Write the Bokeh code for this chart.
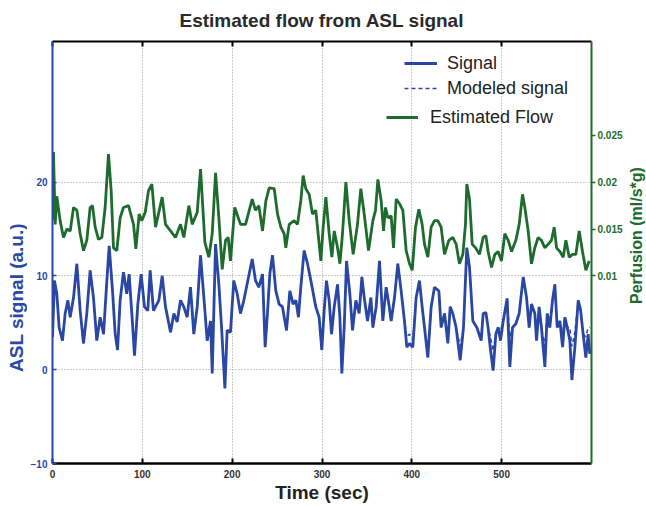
import math
from bokeh.plotting import figure
from bokeh.layouts import row
from bokeh.models import Range1d, LinearAxis, FixedTicker, Legend, LegendItem, CustomJSTickFormatter
from bokeh.embed import file_html
from bokeh.resources import INLINE

BLUE = "#2a47a6"
GREEN = "#1e6b2e"
FONT = "Liberation Sans"

# ---- data ----
time_signal = [0, 2.2, 4.8, 7.4, 11.1, 14.1, 17.1, 19.7, 23.4, 27.1,
               30.8, 34.5, 38.2, 41.9, 45.6, 49.3, 53.1, 56.8, 60.5, 63.1,
               66.8, 69.8, 72.4, 75.3, 79.0, 82.7, 85.3, 88.3, 91.3, 95.0,
               98.7, 102.4, 106.1, 108.7, 112.4, 118.4, 122.1, 125.8, 131.4, 135.1,
               138.8, 142.5, 146.2, 149.9, 153.6, 157.3, 161.1, 164.8, 168.5, 172.2,
               175.9, 177.8, 181.5, 185.2, 188.2, 191.9, 194.4, 198.1, 201.8, 205.6,
               209.3, 213.0, 222.3, 226.0, 229.7, 233.8, 236.7, 239.3, 241.9, 244.9,
               248.6, 252.3, 256.0, 260.5, 264.2, 267.9, 270.9, 273.8, 276.4, 280.1,
               283.9, 287.6, 293.1, 296.8, 299.8, 302.4, 305.0, 308.0, 310.6, 313.6,
               317.3, 319.9, 322.1, 324.7, 327.3, 331.0, 334.0, 337.7, 341.4, 344.4,
               347.0, 350.7, 354.4, 356.6, 360.3, 364.0, 367.7, 371.4, 374.4, 377.0,
               380.7, 384.4, 388.1, 391.8, 394.4, 397.4, 401.1, 404.8, 408.5, 411.5,
               414.1, 417.8, 421.5, 425.2, 430.1, 432.6, 436.4, 440.1, 442.7, 445.6,
               449.3, 453.8, 457.5, 461.2, 464.2, 467.9, 472.4, 477.2, 479.4, 482.4,
               484.9, 487.6, 490.5, 493.5, 496.1, 498.7, 501.7, 506.1, 509.1, 512.1,
               515.8, 519.5, 524.0, 527.7, 530.6, 533.2, 536.9, 538.8, 541.7, 544.3,
               548.1, 550.7, 553.6, 556.6, 559.2, 561.8, 564.8, 567.8, 570.4, 573.0,
               575.9, 578.2, 581.5, 585.2, 587.8, 590.7, 593.7, 596.3, 598.1]

asl_signal = [3.5, 9.5, 8.1, 4.5, 3.1, 6.0, 7.4, 5.6, 7.7, 11.3,
              6.3, 2.8, 6.0, 10.6, 7.7, 3.1, 5.6, 3.8, 9.5, 13.2,
              8.4, 3.8, 2.1, 7.4, 10.4, 8.1, 10.2, 6.0, 1.5, 7.0,
              10.2, 6.7, 6.3, 10.6, 6.3, 7.4, 10.0, 6.7, 4.0, 6.0,
              5.1, 7.4, 6.7, 5.6, 8.8, 3.8, 6.7, 12.2, 7.7, 3.1,
              5.2, -0.4, 13.4, 9.1, 4.5, -2.0, 4.2, 4.0, 9.5, 8.1,
              6.0, 7.4, 11.8, 9.5, 8.8, 10.2, 2.4, 6.0, 10.2, 12.2,
              8.4, 7.0, 6.7, 4.2, 8.4, 7.0, 7.4, 5.6, 8.8, 12.7,
              11.3, 9.5, 6.7, 5.6, 2.1, 6.3, 9.5, 7.4, 3.8, 6.7,
              9.1, 5.6, -0.4, 4.5, 11.6, 8.1, 4.2, 7.4, 6.0, 9.9,
              7.7, 5.2, 7.7, 4.5, 6.7, 11.6, 5.2, 8.8, 7.0, 5.2,
              7.7, 11.3, 8.4, 5.2, 2.4, 2.8, 2.4, 7.7, 9.5, 6.7,
              4.5, 1.3, 6.7, 8.8, 8.4, 4.5, 6.0, 2.8, 6.7, 6.0,
              4.5, 1.0, 4.5, 13.0, 10.9, 5.2, 4.5, 3.1, 6.0, 6.1,
              4.5, 2.1, -0.1, 3.8, 4.5, 3.1, 5.2, 7.6, 0.3, 4.5,
              4.9, 6.0, 9.9, 7.7, 4.5, 7.0, 6.0, 3.1, 6.7, 4.5,
              0.3, 6.0, 4.5, 7.4, 9.1, 4.5, 5.2, 2.4, 5.6, 4.5,
              3.1, -1.1, 2.4, 7.4, 6.4, 3.8, 1.3, 3.8, 1.7]

modeled_signal = [3.5, 9.5, 8.1, 4.5, 3.1, 6.0, 7.4, 5.6, 7.7, 11.3,
                  6.3, 2.8, 6.0, 10.6, 7.7, 3.1, 5.6, 3.8, 9.5, 13.2,
                  8.4, 3.8, 2.1, 7.4, 10.4, 8.1, 10.2, 6.0, 2.5, 7.0,
                  10.2, 6.7, 6.3, 10.6, 6.3, 7.4, 10.0, 6.7, 4.0, 6.0,
                  5.1, 7.4, 6.7, 5.6, 8.8, 3.8, 6.7, 12.2, 7.7, 3.1,
                  5.2, -0.4, 13.4, 9.1, 4.5, -1.0, 4.2, 4.0, 9.5, 8.1,
                  6.0, 7.4, 11.8, 9.5, 8.8, 10.2, 2.4, 6.0, 10.2, 12.2,
                  8.4, 7.0, 6.7, 4.2, 8.4, 7.0, 7.4, 5.6, 8.8, 12.7,
                  11.3, 9.5, 6.7, 5.6, 2.1, 6.3, 9.5, 7.4, 3.8, 6.7,
                  9.1, 5.6, 1.0, 4.5, 11.6, 8.1, 4.2, 7.4, 6.0, 9.9,
                  7.7, 5.2, 7.7, 4.5, 6.7, 11.6, 5.2, 8.8, 7.0, 5.2,
                  7.7, 11.3, 8.4, 5.2, 3.5, 3.8, 3.2, 7.7, 9.5, 6.7,
                  4.5, 1.3, 6.7, 8.8, 8.4, 4.5, 6.0, 4.0, 6.7, 6.0,
                  4.5, 2.5, 4.5, 13.0, 10.9, 5.2, 4.5, 3.1, 6.0, 6.1,
                  4.5, 3.5, 2.0, 3.8, 4.5, 4.2, 5.2, 7.6, 3.5, 4.5,
                  4.9, 6.0, 9.9, 7.7, 4.5, 7.0, 6.0, 3.1, 6.7, 4.5,
                  2.5, 6.0, 4.5, 7.4, 9.1, 4.5, 5.2, 3.8, 5.6, 4.5,
                  4.5, 2.5, 4.0, 7.4, 6.4, 3.8, 3.5, 4.5, 4.5]

time_flow = [0, 1.1, 3.0, 4.8, 8.5, 12.2, 16.0, 19.7, 23.4, 27.1,
             30.8, 34.5, 38.2, 41.9, 44.5, 47.5, 51.2, 54.9, 58.6, 62.3,
             65.3, 67.9, 71.6, 75.3, 79.0, 84.6, 90.2, 92.8, 96.5, 99.4,
             103.2, 106.9, 110.6, 114.7, 122.1, 125.8, 131.4, 136.9, 142.5, 146.2,
             151.8, 155.5, 161.1, 164.8, 169.6, 174.0, 177.8, 181.5, 185.2, 188.9,
             192.6, 195.6, 198.1, 202.9, 209.3, 214.9, 222.3, 226.0, 229.7, 233.8,
             237.5, 241.2, 246.8, 250.5, 254.2, 257.9, 259.7, 263.5, 269.0, 272.7,
             276.4, 279.0, 282.0, 285.7, 289.4, 293.1, 298.7, 301.3, 304.3, 308.0,
             311.0, 313.6, 317.3, 319.9, 322.8, 326.6, 330.3, 334.7, 339.5, 343.2,
             347.0, 351.8, 356.6, 359.6, 362.2, 365.9, 368.5, 370.7, 373.3, 377.0,
             379.6, 382.6, 386.3, 390.0, 393.7, 397.4, 400.4, 404.1, 407.8, 411.5,
             414.1, 417.8, 421.5, 425.2, 428.9, 432.6, 436.4, 441.2, 445.6, 449.3,
             453.0, 456.8, 459.7, 461.2, 464.2, 467.2, 470.9, 475.3, 479.4, 482.4,
             484.9, 488.7, 492.4, 496.1, 499.8, 503.5, 507.3, 511.0, 515.8, 519.5,
             523.2, 525.8, 529.5, 533.2, 536.9, 540.6, 544.3, 548.1, 551.8, 555.5,
             558.5, 561.1, 564.8, 568.5, 571.5, 575.2, 578.9, 582.6, 586.3, 590.0,
             593.7, 597.4]

# estimated flow, in units of 0.001 ml/s*g
flow_milli = [16.0, 23.2, 15.5, 18.5, 15.9, 14.1, 15.0, 14.8, 17.3, 17.0,
              14.5, 12.7, 13.8, 17.3, 17.5, 15.2, 13.9, 14.1, 17.3, 23.0,
              19.1, 13.0, 12.7, 16.2, 17.3, 17.5, 15.5, 12.9, 16.6, 15.9,
              16.8, 19.1, 19.8, 15.2, 18.4, 15.5, 14.8, 14.1, 15.5, 14.1,
              17.5, 15.5, 16.8, 21.4, 13.6, 12.0, 14.5, 21.0, 16.2, 10.7,
              13.8, 14.1, 11.6, 17.3, 15.5, 15.5, 18.2, 17.0, 17.5, 14.8,
              18.0, 19.4, 19.3, 16.6, 15.2, 14.5, 13.0, 15.5, 15.9, 15.5,
              18.0, 20.7, 19.3, 18.7, 16.6, 17.0, 11.6, 15.2, 18.4, 14.5,
              12.0, 14.8, 13.0, 11.3, 14.5, 20.0, 15.9, 12.3, 15.5, 19.3,
              16.6, 12.7, 15.9, 17.0, 20.3, 18.0, 14.8, 17.3, 16.2, 16.4,
              13.0, 18.2, 17.7, 17.0, 12.7, 11.3, 10.6, 15.2, 17.1, 15.5,
              13.4, 12.0, 15.2, 15.9, 15.9, 15.2, 12.3, 13.8, 14.1, 13.4,
              11.3, 12.3, 15.5, 19.8, 18.2, 13.4, 13.0, 12.3, 14.1, 14.3,
              12.6, 10.9, 12.3, 12.6, 11.6, 14.5, 13.8, 12.6, 13.8, 15.5,
              18.7, 17.3, 14.8, 11.3, 13.0, 14.1, 13.8, 13.0, 13.4, 13.8,
              15.2, 13.0, 12.6, 12.0, 13.8, 12.0, 12.3, 12.3, 14.8, 12.6,
              10.6, 11.6]
flow = [v / 1000.0 for v in flow_milli]

x_ticks = [0, 100, 200, 300, 400, 500]
left_ticks = [-10, 0, 10, 20]
right_ticks = [0.01, 0.015, 0.02, 0.025]
right_tick_labels = ["0.01", "0.015", "0.02", "0.025"]


def label_panel(width, text, color, size, border_left, border_top, border_bottom, standoff):
    """A narrow figure that only carries a vertical (bottom-to-top) axis title."""
    f = figure(width=width, height=506, x_range=Range1d(0, 1), y_range=Range1d(0, 1),
               output_backend="svg", toolbar_location=None, x_axis_location=None,
               min_border_left=border_left, min_border_right=0,
               min_border_top=border_top, min_border_bottom=border_bottom)
    f.frame_align = False
    f.outline_line_color = None
    f.grid.visible = False
    f.background_fill_color = "white"
    f.border_fill_color = "white"
    ax = f.yaxis[0]
    ax.ticker = FixedTicker(ticks=[])
    ax.axis_line_color = None
    ax.major_tick_line_color = None
    ax.minor_tick_line_color = None
    ax.axis_label = text
    ax.axis_label_text_font = FONT
    ax.axis_label_text_font_size = size
    ax.axis_label_text_font_style = "bold"
    ax.axis_label_text_color = color
    ax.axis_label_standoff = standoff
    return f


# ---- main figure ----
p = figure(width=598, height=506, x_range=Range1d(0, 600), y_range=Range1d(-10, 35),
           output_backend="svg", toolbar_location=None,
           min_border_left=25, min_border_right=34, min_border_top=40, min_border_bottom=43,
           title="Estimated flow from ASL signal")
p.frame_align = False
p.extra_y_ranges = {"flow": Range1d(-0.010, 0.035)}
p.outline_line_color = None
p.background_fill_color = "white"
p.border_fill_color = "white"

p.title.align = "center"
p.title.vertical_align = "top"
p.title.text_font = FONT
p.title.text_font_size = "19px"
p.title.text_font_style = "bold"
p.title.text_color = "#2a2a2a"
p.title.standoff = 18

# grid
p.xgrid.ticker = FixedTicker(ticks=[100, 200, 300, 400, 500])
p.ygrid.ticker = FixedTicker(ticks=[0, 10, 20])
for g in (p.xgrid[0], p.ygrid[0]):
    g.grid_line_color = "#9a9a9a"
    g.grid_line_dash = "1 2"
    g.grid_line_width = 1

# bottom axis
xa = p.xaxis[0]
xa.ticker = FixedTicker(ticks=x_ticks)
xa.axis_line_color = "black"
xa.axis_line_width = 2.5
xa.major_tick_line_color = "black"
xa.major_tick_line_width = 2
xa.major_tick_in = 5
xa.major_tick_out = 0
xa.minor_tick_line_color = None
xa.major_label_text_font = FONT
xa.major_label_text_font_size = "10px"
xa.major_label_text_font_style = "bold"
xa.major_label_text_color = "#333333"
xa.major_label_standoff = 6
xa.axis_label = "Time (sec)"
xa.axis_label_text_font = FONT
xa.axis_label_text_font_size = "19px"
xa.axis_label_text_font_style = "bold"
xa.axis_label_text_color = "#222222"
xa.axis_label_standoff = 1

# left axis
ya = p.yaxis[0]
ya.ticker = FixedTicker(ticks=left_ticks)
ya.axis_line_color = BLUE
ya.axis_line_width = 2
ya.major_tick_line_color = BLUE
ya.major_tick_line_width = 1.5
ya.major_tick_in = 4
ya.major_tick_out = 0
ya.minor_tick_line_color = None
ya.major_label_text_font = FONT
ya.major_label_text_font_size = "10px"
ya.major_label_text_font_style = "bold"
ya.major_label_text_color = BLUE
ya.major_label_standoff = 5

# right axis
ra = LinearAxis(y_range_name="flow", ticker=FixedTicker(ticks=right_ticks))
ra.major_label_overrides = {t: s for t, s in zip(right_ticks, right_tick_labels)}
ra.axis_line_color = GREEN
ra.axis_line_width = 2
ra.major_tick_line_color = GREEN
ra.major_tick_line_width = 1.5
ra.major_tick_in = 0
ra.major_tick_out = 4
ra.minor_tick_line_color = None
ra.major_label_text_font = FONT
ra.major_label_text_font_size = "10px"
ra.major_label_text_font_style = "bold"
ra.major_label_text_color = GREEN
ra.major_label_standoff = 2
p.add_layout(ra, "right")

# top axis (ticks only, no labels)
ta = LinearAxis(ticker=FixedTicker(ticks=x_ticks),
                formatter=CustomJSTickFormatter(code="return ''"))
ta.axis_line_color = "black"
ta.axis_line_width = 2
ta.major_tick_line_color = "black"
ta.major_tick_line_width = 2
ta.major_tick_in = 5
ta.major_tick_out = 0
ta.minor_tick_line_color = None
ta.major_label_standoff = 0
p.add_layout(ta, "above")

# lines
r_flow = p.line(time_flow, flow, y_range_name="flow", line_color=GREEN, line_width=2.8)
r_sig = p.line(time_signal, asl_signal, line_color=BLUE, line_width=2.8)
r_mod = p.line(time_signal, modeled_signal, line_color=BLUE, line_width=1.5, line_dash="4 3")

# legends
leg1 = Legend(items=[LegendItem(label="Signal", renderers=[r_sig]),
                     LegendItem(label="Modeled signal", renderers=[r_mod])],
              location=(352, 364), padding=0, margin=0, spacing=3,
              glyph_width=33, glyph_height=22, label_standoff=10,
              label_text_font=FONT, label_text_font_size="18px", label_text_color="#222222",
              background_fill_alpha=0, border_line_alpha=0)
leg2 = Legend(items=[LegendItem(label="Estimated Flow", renderers=[r_flow])],
              location=(334, 335), padding=0, margin=0, spacing=3,
              glyph_width=32, glyph_height=22, label_standoff=12,
              label_text_font=FONT, label_text_font_size="18px", label_text_color="#222222",
              background_fill_alpha=0, border_line_alpha=0)
p.add_layout(leg1, "center")
p.add_layout(leg2, "center")

# axis titles (left: ASL signal, right: perfusion), both read bottom-to-top
left_title = label_panel(27, "ASL signal (a.u.)", BLUE, "19px", 26, 197, 109, 0)
right_title = label_panel(21, "Perfusion (ml/s*g)", GREEN, "16px", 20, 185, 221, 2)

layout = row(left_title, p, right_title, spacing=0)
open("out.html", "w").write(file_html(layout, INLINE))
